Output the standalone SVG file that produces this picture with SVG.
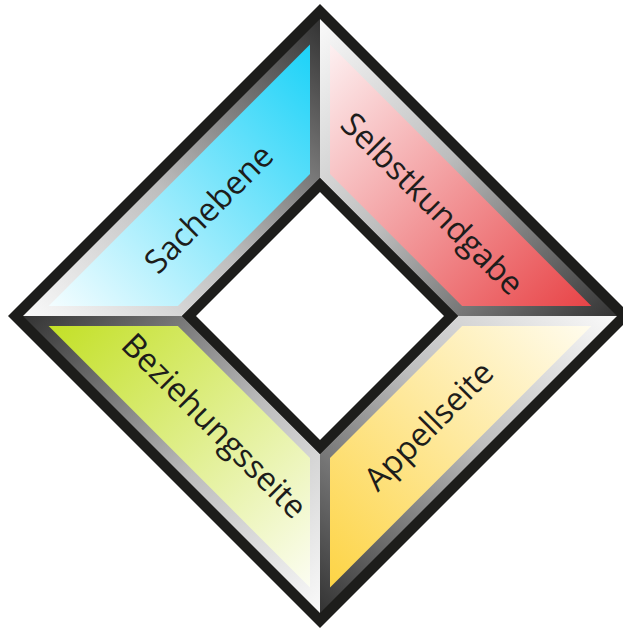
<svg xmlns="http://www.w3.org/2000/svg" width="623" height="629" viewBox="0 0 623 629">
  <defs>
    <style>
      .blk { fill: #1d1d1b; }
      .lbl { font-family: "Open Sans", "Noto Sans", "DejaVu Sans", sans-serif; font-size: 32.5px; fill: #1d1d1b; text-anchor: middle; }
    </style>
    <linearGradient id="bevSach" gradientUnits="userSpaceOnUse" x1="23" y1="316" x2="320" y2="19">
      <stop offset="0" stop-color="#fafafa"/><stop offset="0.45" stop-color="#bdbdbd"/><stop offset="1" stop-color="#333333"/>
    </linearGradient>
    <linearGradient id="bevSelb" gradientUnits="userSpaceOnUse" x1="320" y1="19" x2="617" y2="316">
      <stop offset="0" stop-color="#fafafa"/><stop offset="0.45" stop-color="#bdbdbd"/><stop offset="1" stop-color="#333333"/>
    </linearGradient>
    <linearGradient id="bevAppe" gradientUnits="userSpaceOnUse" x1="617" y1="316" x2="320" y2="613">
      <stop offset="0" stop-color="#fafafa"/><stop offset="0.45" stop-color="#bdbdbd"/><stop offset="1" stop-color="#333333"/>
    </linearGradient>
    <linearGradient id="bevBezi" gradientUnits="userSpaceOnUse" x1="320" y1="613" x2="23" y2="316">
      <stop offset="0" stop-color="#fafafa"/><stop offset="0.45" stop-color="#bdbdbd"/><stop offset="1" stop-color="#333333"/>
    </linearGradient>
    <linearGradient id="fillSach" gradientUnits="userSpaceOnUse" x1="48.6" y1="306" x2="310" y2="44.6">
      <stop offset="0" stop-color="#f4fdff"/><stop offset="1" stop-color="#1cd2f8"/>
    </linearGradient>
    <linearGradient id="fillSelb" gradientUnits="userSpaceOnUse" x1="330" y1="44.6" x2="591.4" y2="306">
      <stop offset="0" stop-color="#fdf0f1"/><stop offset="1" stop-color="#e84447"/>
    </linearGradient>
    <linearGradient id="fillAppe" gradientUnits="userSpaceOnUse" x1="591.4" y1="326" x2="330" y2="587.4">
      <stop offset="0" stop-color="#fffcee"/><stop offset="1" stop-color="#fdd446"/>
    </linearGradient>
    <linearGradient id="fillBezi" gradientUnits="userSpaceOnUse" x1="310" y1="587.4" x2="48.6" y2="326">
      <stop offset="0" stop-color="#fcfdf2"/><stop offset="1" stop-color="#c3e026"/>
    </linearGradient>
  </defs>

  <g id="frame">
    <polygon class="blk" points="320,4 632,316 320,628 8,316"/>
  </g>

  <g id="sachebene">
    <polygon points="23,316 320,19 320,178 182,316" fill="url(#bevSach)"/>
    <polygon points="48.6,306 310,44.6 310,173.9 177.9,306" fill="url(#fillSach)"/>
    <text class="lbl" transform="translate(209,209) rotate(-45)" y="11">Sachebene</text>
  </g>

  <g id="selbstkundgabe">
    <polygon points="320,19 617,316 458,316 320,178" fill="url(#bevSelb)"/>
    <polygon points="330,44.6 591.4,306 462.1,306 330,173.9" fill="url(#fillSelb)"/>
    <text class="lbl" transform="translate(430,206) rotate(45)" y="8">Selbstkundgabe</text>
  </g>

  <g id="appellseite">
    <polygon points="617,316 320,613 320,454 458,316" fill="url(#bevAppe)"/>
    <polygon points="591.4,326 330,587.4 330,458.1 462.1,326" fill="url(#fillAppe)"/>
    <text class="lbl" transform="translate(429,426) rotate(-45)" y="11">Appellseite</text>
  </g>

  <g id="beziehungsseite">
    <polygon points="320,613 23,316 182,316 320,454" fill="url(#bevBezi)"/>
    <polygon points="310,587.4 48.6,326 177.9,326 310,458.1" fill="url(#fillBezi)"/>
    <text class="lbl" transform="translate(214,426) rotate(45)" y="11">Beziehungsseite</text>
  </g>

  <g id="center">
    <polygon class="blk" points="320,178 458,316 320,454 182,316"/>
    <polygon points="320,192 444,316 320,440 196,316" fill="#ffffff"/>
  </g>
</svg>
